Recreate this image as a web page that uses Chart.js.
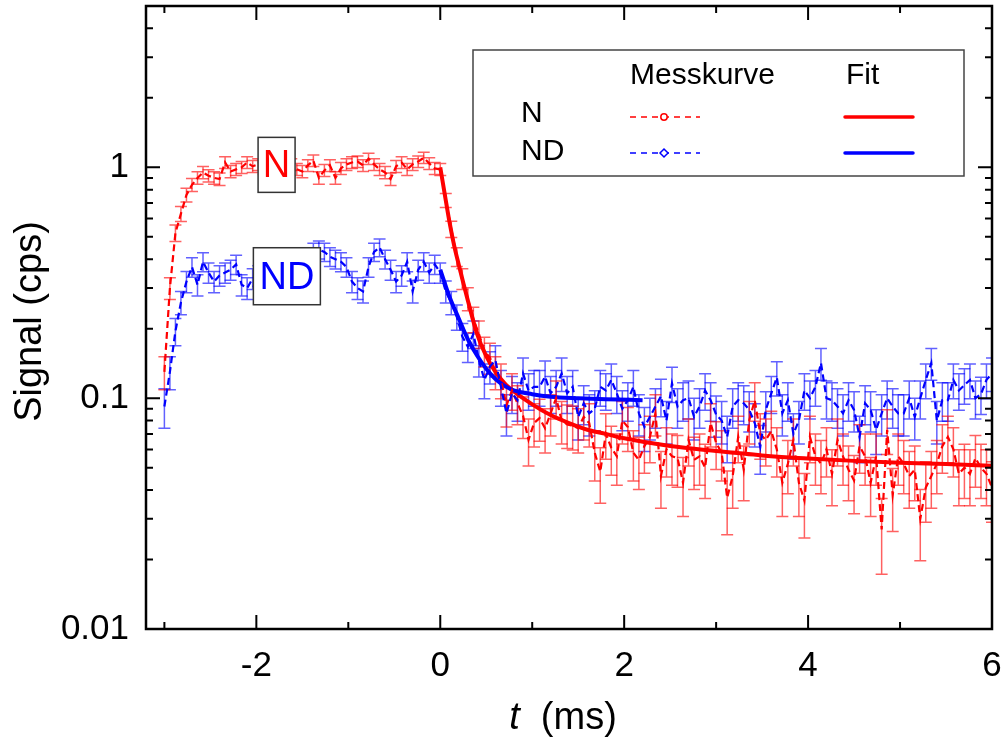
<!DOCTYPE html>
<html><head><meta charset="utf-8">
<script src="https://cdn.jsdelivr.net/npm/chart.js@4.4.1/dist/chart.umd.min.js"></script>
<style>html,body{margin:0;padding:0;background:#fff}canvas{display:block}</style>
</head><body>
<canvas id="c" width="1004" height="747"></canvas>
<script>
// ---- data ----
const tStart = -3.0, tStep = 0.06;   // sampling grid of the measurement (ms)
const signalN = [
 0.13,0.30,0.52,0.63,0.76,0.84,0.90,0.95,0.92,0.90,
 0.89,1.05,0.96,0.98,1.00,1.05,1.01,1.03,0.99,1.02,
 1.00,1.04,1.01,1.03,0.98,0.96,1.02,1.07,0.90,0.97,
 1.02,0.90,0.99,1.03,1.05,1.06,1.02,1.09,1.03,0.98,
 0.95,0.89,1.01,1.05,0.98,1.03,1.06,1.10,1.04,0.99,
 0.98,0.72,0.54,0.41,0.33,0.27,0.22,0.19,0.16,0.15,
 0.13,0.12,0.093,0.108,0.095,0.084,0.066,0.078,0.082,0.074,
 0.086,0.100,0.080,0.077,0.076,0.074,0.083,0.078,0.058,0.048,
 0.070,0.061,0.056,0.080,0.075,0.058,0.054,0.062,0.068,0.086,
 0.046,0.060,0.056,0.055,0.043,0.066,0.054,0.056,0.050,0.078,
 0.064,0.058,0.037,0.046,0.068,0.049,0.080,0.098,0.070,0.066,
 0.072,0.060,0.043,0.052,0.066,0.043,0.036,0.068,0.056,0.052,
 0.060,0.047,0.066,0.056,0.049,0.044,0.062,0.056,0.043,0.056,
 0.027,0.073,0.038,0.056,0.052,0.046,0.049,0.030,0.041,0.046,
 0.052,0.062,0.068,0.060,0.047,0.050,0.047,0.055,0.050,0.047,
 0.041
];
const signalND = [
 0.092,0.13,0.195,0.26,0.32,0.37,0.31,0.39,0.35,0.32,
 0.34,0.35,0.36,0.38,0.31,0.30,0.33,0.34,0.36,0.33,
 0.35,0.38,0.36,0.34,0.37,0.39,0.41,0.43,0.44,0.43,
 0.41,0.40,0.39,0.37,0.32,0.30,0.29,0.37,0.43,0.45,
 0.40,0.36,0.32,0.34,0.39,0.29,0.36,0.39,0.35,0.38,
 0.35,0.29,0.26,0.225,0.185,0.167,0.19,0.146,0.12,0.137,
 0.146,0.112,0.086,0.105,0.098,0.128,0.108,0.112,0.112,0.124,
 0.105,0.112,0.128,0.105,0.112,0.083,0.095,0.086,0.090,0.112,
 0.108,0.120,0.105,0.090,0.098,0.112,0.086,0.075,0.083,0.092,
 0.102,0.080,0.116,0.092,0.098,0.100,0.083,0.092,0.108,0.098,
 0.085,0.080,0.068,0.092,0.098,0.095,0.089,0.078,0.0615,0.089,
 0.105,0.123,0.086,0.098,0.070,0.080,0.108,0.100,0.112,0.142,
 0.100,0.098,0.092,0.086,0.098,0.089,0.068,0.095,0.089,0.073,
 0.086,0.100,0.092,0.086,0.086,0.100,0.083,0.100,0.120,0.142,
 0.080,0.098,0.098,0.120,0.108,0.114,0.120,0.100,0.104,0.120,
 0.128
];
const fitNTime  = [0,0.05,0.1,0.15,0.2,0.25,0.3,0.4,0.5,0.6,0.7,0.8,1.0,1.2,1.4,1.6,1.8,2.0,2.5,3.0,3.5,4.0,4.5,5.0,5.5,6.0];
const fitNValue = [1.0,0.76,0.58,0.46,0.38,0.316,0.265,0.19,0.152,0.13,0.116,0.107,0.094,0.0845,0.078,0.073,0.070,0.067,0.062,0.059,0.0565,0.0548,0.0535,0.0525,0.0518,0.051];
const fitNDTime  = [0,0.1,0.2,0.3,0.4,0.5,0.6,0.7,0.8,1.0,1.2,1.5,1.8,2.2];
const fitNDValue = [0.36,0.275,0.222,0.18,0.153,0.134,0.121,0.113,0.108,0.104,0.1015,0.100,0.099,0.098];
const xMajorTicks = [-2,0,2,4,6];
const xMinorTicks = [-3,-1,1,3,5];
const yMajorTicks = [0.01,0.1,1];
const countNorm = 0.0035; // Poisson statistics: sigma = sqrt(rate * countNorm)

const times = signalN.map((_, i) => +(tStart + tStep * i).toFixed(2));
const errN  = signalN.map(v => Math.sqrt(v * countNorm));
const errND = signalND.map(v => Math.sqrt(v * countNorm));

const FONT = '"Liberation Sans", Arial, sans-serif';
const RED = '#ff0000', BLUE = '#0000ff';

const pts = (xs, ys) => xs.map((x, i) => ({x, y: ys[i]}));

const errorBars = {
  id: 'errorBars',
  beforeDatasetsDraw(chart) {
    const {ctx, chartArea: a, scales: {x, y}} = chart;
    ctx.save();
    ctx.beginPath(); ctx.rect(a.left, a.top, a.right - a.left, a.bottom - a.top); ctx.clip();
    const sets = [[signalND, errND, 'rgba(0,0,255,0.62)'], [signalN, errN, 'rgba(255,0,0,0.62)']];
    ctx.lineWidth = 1.5;
    for (const [vals, errs, col] of sets) {
      ctx.strokeStyle = col;
      vals.forEach((v, i) => {
        const px = x.getPixelForValue(times[i]);
        const lo = Math.max(v - errs[i], 1e-4);
        const y1 = y.getPixelForValue(v + errs[i]), y2 = y.getPixelForValue(lo);
        ctx.beginPath();
        ctx.moveTo(px, y1); ctx.lineTo(px, y2);
        ctx.moveTo(px - 6, y1); ctx.lineTo(px + 6, y1);
        ctx.moveTo(px - 6, y2); ctx.lineTo(px + 6, y2);
        ctx.stroke();
      });
    }
    ctx.restore();
  }
};

const frame = {
  id: 'frame',
  afterDatasetsDraw(chart) {
    const {ctx, chartArea: a, scales: {x, y}} = chart;
    ctx.save();
    // annotation boxes
    const box = (text, t, v, col, fs, w, h) => {
      const cx = x.getPixelForValue(t), cy = y.getPixelForValue(v);
      ctx.fillStyle = '#fff';
      ctx.fillRect(cx - w / 2, cy - h / 2, w, h);
      ctx.strokeStyle = '#333'; ctx.lineWidth = 1.5;
      ctx.strokeRect(cx - w / 2, cy - h / 2, w, h);
      ctx.fillStyle = col; ctx.font = fs + 'px ' + FONT;
      ctx.textAlign = 'center'; ctx.textBaseline = 'middle';
      ctx.fillText(text, cx, cy + 2);
    };
    box('N', -1.78, 1.025, RED, 38, 37, 55);
    box('ND', -1.668, 0.3375, BLUE, 38, 67, 57);

    // legend
    ctx.fillStyle = '#fff';
    ctx.fillRect(473, 50, 491, 126);
    ctx.strokeStyle = '#444'; ctx.lineWidth = 1.5;
    ctx.strokeRect(473, 50, 491, 126);
    ctx.fillStyle = '#000'; ctx.font = '30px ' + FONT;
    ctx.textAlign = 'left'; ctx.textBaseline = 'middle';
    ctx.fillText('Messkurve', 630, 76);
    ctx.fillText('Fit', 846, 76);
    ctx.fillText('N', 521, 114);
    ctx.fillText('ND', 521, 152);
    const legRow = (yy, col, marker) => {
      ctx.strokeStyle = col; ctx.lineWidth = 1.5; ctx.setLineDash([6, 5]);
      ctx.beginPath(); ctx.moveTo(630, yy); ctx.lineTo(700, yy); ctx.stroke();
      ctx.setLineDash([]);
      ctx.fillStyle = '#fff';
      ctx.beginPath();
      if (marker === 'circle') { ctx.arc(664, yy, 3.2, 0, Math.PI * 2); }
      else { ctx.moveTo(664, yy - 4); ctx.lineTo(668, yy); ctx.lineTo(664, yy + 4); ctx.lineTo(660, yy); ctx.closePath(); }
      ctx.fill(); ctx.stroke();
      ctx.lineWidth = 3.5; ctx.lineCap = 'round';
      ctx.beginPath(); ctx.moveTo(845, yy); ctx.lineTo(913, yy); ctx.stroke();
      ctx.lineCap = 'butt';
    };
    legRow(117, RED, 'circle');
    legRow(153, BLUE, 'diamond');

    // ticks (inward, all four sides)
    ctx.strokeStyle = '#000'; ctx.lineWidth = 2;
    ctx.beginPath();
    const xt = (vals, len) => vals.forEach(v => {
      const px = x.getPixelForValue(v);
      ctx.moveTo(px, a.bottom); ctx.lineTo(px, a.bottom - len);
      ctx.moveTo(px, a.top); ctx.lineTo(px, a.top + len);
    });
    xt(xMajorTicks, 14); xt(xMinorTicks, 7);
    const yt = (v, len) => {
      const py = y.getPixelForValue(v);
      ctx.moveTo(a.left, py); ctx.lineTo(a.left + len, py);
      ctx.moveTo(a.right, py); ctx.lineTo(a.right - len, py);
    };
    yMajorTicks.forEach(v => {
      yt(v, 14);
      for (let m = 2; m <= 9; m++) if (v * m < y.max) yt(v * m, 7);
    });
    ctx.stroke();
    // frame
    ctx.lineWidth = 2.5;
    ctx.strokeRect(a.left, a.top, a.right - a.left, a.bottom - a.top);

    // axis titles
    ctx.fillStyle = '#000';
    ctx.textBaseline = 'alphabetic'; ctx.textAlign = 'left';
    const fi = 'italic 38px ' + FONT, fn = '38px ' + FONT;
    ctx.font = fi; const w1 = ctx.measureText('t').width;
    ctx.font = fn; const w2 = ctx.measureText('  (ms)').width;
    const cx = (a.left + a.right) / 2 - 6;
    const sx = cx - (w1 + w2) / 2;
    ctx.font = fi; ctx.fillText('t', sx, 729);
    ctx.font = fn; ctx.fillText('  (ms)', sx + w1, 729);
    ctx.save();
    ctx.translate(31, (a.top + a.bottom) / 2 + 4);
    ctx.rotate(-Math.PI / 2);
    ctx.textAlign = 'center'; ctx.textBaseline = 'middle';
    ctx.fillText('Signal (cps)', 0, 0);
    ctx.restore();
    ctx.restore();
  }
};

new Chart(document.getElementById('c'), {
  type: 'line',
  data: {
    datasets: [
      { label: 'ND Messkurve', data: pts(times, signalND), borderColor: BLUE, borderWidth: 2.2,
        borderDash: [7, 4], pointRadius: 0, fill: false, tension: 0 },
      { label: 'N Messkurve', data: pts(times, signalN), borderColor: RED, borderWidth: 2.2,
        borderDash: [7, 4], pointRadius: 0, fill: false, tension: 0 },
      { label: 'ND Fit', data: pts(fitNDTime, fitNDValue), borderColor: BLUE, borderWidth: 4,
        pointRadius: 0, fill: false, cubicInterpolationMode: 'monotone' },
      { label: 'N Fit', data: pts(fitNTime, fitNValue), borderColor: RED, borderWidth: 4,
        pointRadius: 0, fill: false, cubicInterpolationMode: 'monotone' }
    ]
  },
  options: {
    responsive: false, animation: false, devicePixelRatio: 1,
    layout: { padding: { left: 0, top: 6, right: 12, bottom: 0 } },
    plugins: { legend: { display: false }, tooltip: { enabled: false } },
    scales: {
      x: {
        type: 'linear', min: -3.2, max: 6,
        grid: { display: false }, border: { display: false },
        afterBuildTicks: s => { s.ticks = xMajorTicks.map(v => ({ value: v })); },
        afterFit: s => { s.height = 118; s.paddingLeft = 0; s.paddingRight = 0; },
        ticks: { color: '#000', font: { family: FONT, size: 35 }, padding: 8, maxRotation: 0,
                 callback: v => String(v) }
      },
      y: {
        type: 'logarithmic', min: 0.01, max: 5,
        grid: { display: false }, border: { display: false },
        afterBuildTicks: s => { s.ticks = yMajorTicks.map(v => ({ value: v })); },
        afterFit: s => { s.width = 146; s.paddingTop = 0; s.paddingBottom = 0; },
        ticks: { color: '#000', font: { family: FONT, size: 35 }, padding: 9,
                 callback: v => String(v) }
      }
    }
  },
  plugins: [errorBars, frame]
});
</script>
</body></html>
